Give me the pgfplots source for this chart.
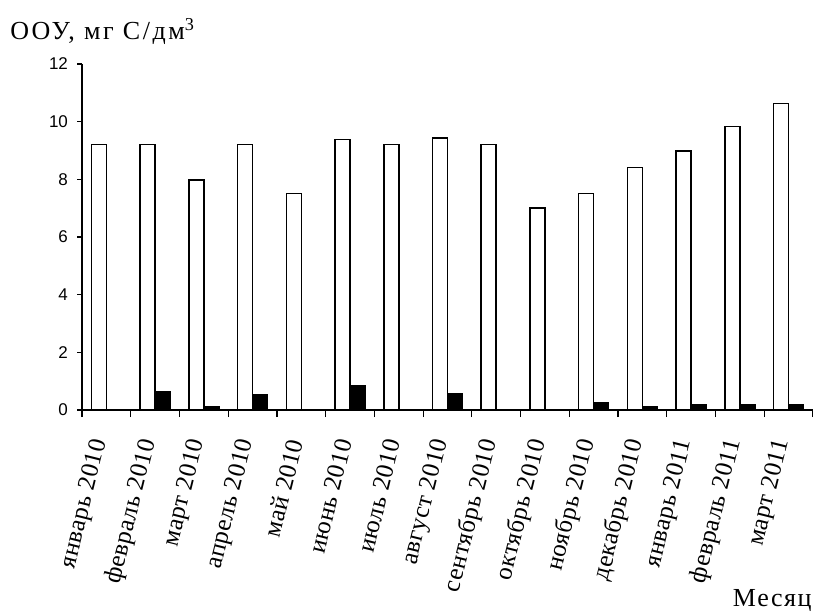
\documentclass[border=0pt]{standalone}
\usepackage{fontspec}
\setmainfont{Liberation Serif}
\newfontfamily\arial{Liberation Sans}
\usepackage{pgfplots}
\pgfplotsset{compat=1.18}
\begin{document}
\begin{tikzpicture}
\useasboundingbox (0,0) rectangle (406.5pt,-305.5pt);
\begin{axis}[
  at={(41pt,-205pt)}, anchor=south west,
  width=365.5pt, height=173pt, scale only axis,
  xmin=-0.5, xmax=14.5, ymin=0, ymax=12,
  axis x line=bottom, axis y line=left,
  axis line style={-, line width=0.6pt},
  ybar=0pt, bar width=7.5pt,
  ytick={0,2,...,12},
  /pgf/number format/assume math mode=true,
  yticklabel style={font=\arial\fontsize{8.5}{10}\selectfont, xshift=-1pt},
  xtick={0,...,14},
  xticklabels={январь 2010, февраль 2010, март 2010, апрель 2010, май 2010, июнь 2010, июль 2010, август 2010, сентябрь 2010, октябрь 2010, ноябрь 2010, декабрь 2010, январь 2011, февраль 2011, март 2011},
  xticklabel style={xshift=-2pt, yshift=-9pt, rotate=76, anchor=east, font=\addfontfeature{LetterSpace=2}\fontsize{12.5}{14}\selectfont},
  minor xtick={-0.5,0.5,...,14.5},
  tick align=outside,
  major tick length=2.5pt, minor tick length=3.5pt,
  major x tick style={draw=none},
  tick style={black, line width=0.6pt},
]
\addplot[fill=white, draw=black, line width=0.75pt] coordinates {
(0,9.20) (1,9.20) (2,7.97) (3,9.20) (4,7.51) (5,9.38) (6,9.20) (7,9.43)
(8,9.20) (9,7.01) (10,7.51) (11,8.41) (12,8.99) (13,9.83) (14,10.63)};
\addplot[fill=black, draw=black, line width=0.75pt] coordinates {
(0,0) (1,0.63) (2,0.12) (3,0.53) (4,0) (5,0.85) (6,0) (7,0.58)
(8,0) (9,0) (10,0.24) (11,0.12) (12,0.18) (13,0.18) (14,0.18)};
\end{axis}
\node[anchor=base west, inner sep=0pt, font=\addfontfeature{LetterSpace=10}\fontsize{13}{15}\selectfont] at (5pt,-19.5pt) {ООУ, мг С/дм\textsuperscript{3}};
\node[anchor=base east, inner sep=0pt, font=\addfontfeature{LetterSpace=6}\fontsize{13}{15}\selectfont] at (406pt,-303pt) {Месяц};
\end{tikzpicture}
\end{document}
